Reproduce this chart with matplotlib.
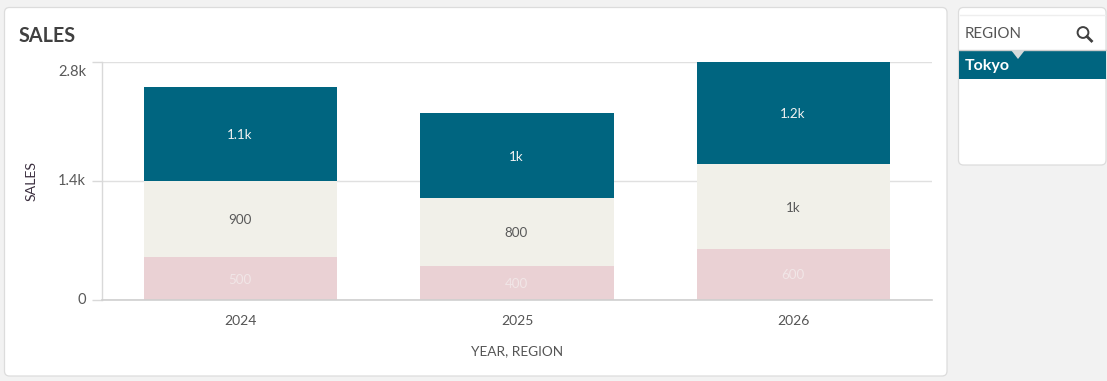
import matplotlib
matplotlib.use("Agg")
import matplotlib.pyplot as plt
from matplotlib.patches import FancyBboxPatch, Rectangle, Polygon, Circle
from matplotlib.lines import Line2D

years = ["2024", "2025", "2026"]
bottom_vals = [500, 400, 600]
middle_vals = [900, 800, 1000]
top_vals = [1100, 1000, 1200]
bottom_labels = ["500", "400", "600"]
middle_labels = ["900", "800", "1k"]
top_labels = ["1.1k", "1k", "1.2k"]
y_ticks = [0, 1400, 2800]
y_tick_labels = ["0", "1.4k", "2.8k"]

plt.rcParams['font.family'] = ['Lato', 'DejaVu Sans']
W, H = 1107, 381
fig = plt.figure(figsize=(W/100, H/100), dpi=100, facecolor="#f2f2f2")

# Pixel-coordinate background layer
bg = fig.add_axes([0, 0, 1, 1], zorder=0)
bg.set_xlim(0, W); bg.set_ylim(H, 0); bg.axis("off")
for (x0, y0, x1, y1) in [(4.5, 7.5, 947, 376), (958.5, 7.5, 1106, 165)]:
    bg.add_patch(FancyBboxPatch((x0, y0), x1-x0, y1-y0,
                 boxstyle="round,pad=0,rounding_size=5",
                 fc="white", ec="#dcdcdc", lw=0.9))
bg.text(19, 36, "SALES", fontsize=14.2, fontweight="bold", color="#404040", va="center", ha="left")

# Region filter panel
bg.add_line(Line2D([960, 1105], [14.5, 14.5], color="#eeeeee", lw=1))
bg.text(965, 33.5, "REGION", fontsize=10.8, color="#555555", va="center", ha="left")
bg.add_patch(Circle((1083, 32.5), 5.4, fc="none", ec="#404040", lw=1.4))
bg.add_line(Line2D([1087, 1091.5], [36.5, 41], color="#404040", lw=2))
bg.add_patch(Rectangle((959, 50), 147, 29, fc="#006580", ec="none"))
bg.add_line(Line2D([959, 1106], [49.5, 49.5], color="#cccccc", lw=1))
bg.add_patch(Polygon([[1011, 50], [1025, 50], [1018, 59]], fc="#d5dadb", ec="none", zorder=3))
bg.text(965, 66, "Tokyo", fontsize=11.5, fontweight="bold", color="white", va="center", ha="left", zorder=4)

# Chart axes
ax = fig.add_axes([102/W, 1-299.5/H, 830/W, (299.5-62)/H], zorder=1)
ax.patch.set_alpha(0)
ax.set_xlim(-0.5, 2.5)
ax.set_ylim(0, 2800)
xs = list(range(len(years)))
bw = 0.7
b2 = [a+b for a, b in zip(bottom_vals, middle_vals)]
ax.bar(xs, bottom_vals, bw, color="#ead1d4", zorder=2)
ax.bar(xs, middle_vals, bw, bottom=bottom_vals, color="#f1f0e9", zorder=2)
ax.bar(xs, top_vals, bw, bottom=b2, color="#006580", zorder=2)

for i in xs:
    ax.annotate(bottom_labels[i], (i, bottom_vals[i]/2), xytext=(-0.5, -1.0), textcoords="offset points",
                ha="center", va="center", fontsize=9.6, color="#f1e6e7", zorder=3)
    ax.annotate(middle_labels[i], (i, bottom_vals[i]+middle_vals[i]/2), xytext=(-0.5, -1.0), textcoords="offset points",
                ha="center", va="center", fontsize=9.6, color="#595959", zorder=3)
    ax.annotate(top_labels[i], (i, b2[i]+top_vals[i]/2), xytext=(-0.5, -1.0), textcoords="offset points",
                ha="center", va="center", fontsize=9.6, color="#f2f2f2", zorder=3)

for s in ["top", "right"]:
    ax.spines[s].set_visible(False)
ax.spines["left"].set_color("#d9d9d9"); ax.spines["left"].set_linewidth(1.0)
ax.spines["bottom"].set_color("#cfcfcf"); ax.spines["bottom"].set_linewidth(1.2)
ax.spines["bottom"].set_zorder(4)
ax.set_yticks(y_ticks)
ax.set_yticklabels([""] * len(y_ticks))
ax.tick_params(axis="y", length=7.5, width=1.0, color="#d9d9d9")
ax.yaxis.grid(True, color="#e0e0e0", lw=1.0, zorder=1)
ax.set_axisbelow(True)
# y tick labels: the top one sits below its tick so that it stays in the plot band
for t, lab in zip(y_ticks, y_tick_labels):
    dy = -6.5 if t == max(y_ticks) else 0
    ax.annotate(lab, (0, t), xycoords=("axes fraction", "data"), xytext=(-11.5, dy - 0.5),
                textcoords="offset points", ha="right", va="center",
                fontsize=10.6, color="#595959", annotation_clip=False)
ax.set_xticks(xs)
ax.set_xticklabels(years, fontsize=10, color="#555555")
ax.tick_params(axis="x", length=0, pad=11.5)
ax.set_xlabel("YEAR, REGION", fontsize=9.8, color="#555555", labelpad=0)
ax.xaxis.set_label_coords((517-102)/830, -(351.5-299.5)/237.5)
ax.xaxis.label.set_va("center")
ax.set_ylabel("SALES", fontsize=10.2, color="#3c3040")
ax.yaxis.set_label_coords((32-102)/830, (299.5-181)/237.5)
ax.yaxis.label.set_va("center")

fig.savefig("out.png", dpi=100, facecolor=fig.get_facecolor())
